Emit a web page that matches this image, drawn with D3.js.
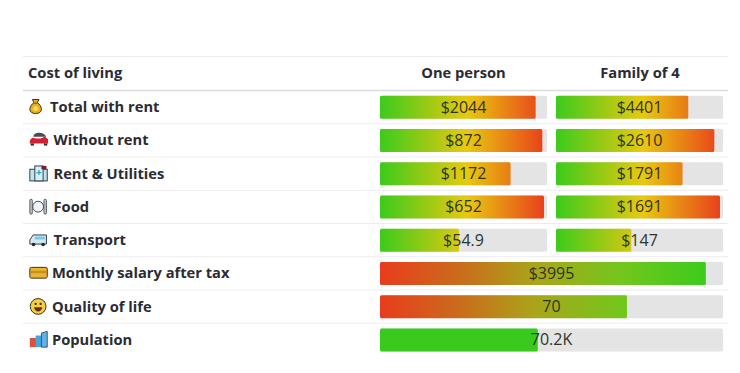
<!DOCTYPE html>
<html>
<head>
<meta charset="utf-8">
<script src="https://d3js.org/d3.v7.min.js"></script>
<style>
  body { margin: 0; background: #fff; }
  text { font-family: "Open Sans", sans-serif; fill: #2b2b33; }
</style>
</head>
<body>
<div id="chart"></div>
<script>
// table content
var title = "Cost of living";
var columns = ["One person", "Family of 4"];
var rows = ["Total with rent", "Without rent", "Rent & Utilities", "Food", "Transport", "Monthly salary after tax", "Quality of life", "Population"];
var icons = ["bag", "car", "hospital", "plate", "van", "card", "smile", "city"];

// shown labels and bar fill in % of the track
var onePersonLabels = ["$2044", "$872", "$1172", "$652", "$54.9"];
var onePersonFill = [93.2, 97.2, 78.2, 98.2, 47.3];
var familyLabels = ["$4401", "$2610", "$1791", "$1691", "$147"];
var familyFill = [79.2, 94.8, 75.8, 98.2, 45.1];
var wideLabels = ["$3995", "70", "70.2K"];
var wideFill = [95, 72, 46];

var width = 740, height = 373;
var svg = d3.select("#chart").append("svg")
    .attr("width", width)
    .attr("height", height)
    .style("display", "block");
var defs = svg.append("defs");

var rowY = d3.scaleBand().domain(rows).range([90.5, 356.5]);  // row slots
var pct = d3.scaleLinear().domain([0, 100]);
var col1 = [380, 547], col2 = [556, 723], colWide = [380, 723];
var barH = 23;

// grid lines
var lineYs = [56.5, 90.5].concat(rows.slice(0, -1).map(function(r){ return rowY(r) + rowY.bandwidth(); }));
svg.selectAll("line.grid").data(lineYs).enter().append("line")
    .attr("class", "grid")
    .attr("x1", 23).attr("x2", 728)
    .attr("y1", function(d){ return d; })
    .attr("y2", function(d){ return d; })
    .attr("stroke", function(d, i){ return i == 1 ? "#dcdce0" : "#ececec"; })
    .attr("stroke-width", function(d, i){ return i == 1 ? 1.5 : 1; });

// header
svg.append("text").attr("x", 28).attr("y", 78).text(title)
    .style("font-size", "14.7px").style("font-weight", 700);
svg.selectAll("text.colhead").data(columns).enter().append("text")
    .attr("class", "colhead")
    .attr("x", function(d, i){ return i == 0 ? 463.5 : 640; })
    .attr("y", 78)
    .attr("text-anchor", "middle")
    .style("font-size", "14.7px").style("font-weight", 700)
    .text(function(d){ return d; });

// row labels
var labelX = [50, 53.5, 53.5, 53.5, 53.5, 52, 52, 52];
svg.selectAll("text.rowlabel").data(rows).enter().append("text")
    .attr("class", "rowlabel")
    .attr("x", function(d, i){ return labelX[i]; })
    .attr("y", function(d){ return rowY(d) + rowY.bandwidth() / 2 + 5; })
    .style("font-size", "14.7px").style("font-weight", 700)
    .text(function(d){ return d; });

var gradId = 0;
function drawBar(rowName, range, value, label, stops) {
    var y = rowY(rowName) + (rowY.bandwidth() - barH) / 2;
    var x = pct.copy().range(range);
    var id = "g" + (gradId++);
    var grad = defs.append("linearGradient").attr("id", id)
        .attr("gradientUnits", "userSpaceOnUse")
        .attr("x1", range[0]).attr("x2", range[1]).attr("y1", 0).attr("y2", 0);
    grad.selectAll("stop").data(stops).enter().append("stop")
        .attr("offset", function(d){ return d[0]; })
        .attr("stop-color", function(d){ return d[1]; });

    svg.append("rect").attr("x", range[0]).attr("y", y)
        .attr("width", range[1] - range[0]).attr("height", barH)
        .attr("rx", 1.5).attr("fill", "#e4e4e4");
    svg.append("rect").attr("x", range[0]).attr("y", y)
        .attr("width", x(value) - range[0]).attr("height", barH)
        .attr("rx", 1.5).attr("fill", "url(#" + id + ")");
    svg.append("text")
        .attr("x", (range[0] + range[1]) / 2).attr("y", y + 17)
        .attr("text-anchor", "middle")
        .style("font-size", "16px").style("fill", "#2e3626")
        .text(label);
}

var goodToBad = [[0, "#3ccb1c"], [0.52, "#e8c90f"], [1, "#e83c1c"]];
var badToGood = [[0, "#e83c1c"], [0.25, "#c8701c"], [0.45, "#aaa41a"], [0.7, "#74c61c"], [0.95, "#3ccb1c"], [1, "#3ccb1c"]];
var flat = [[0, "#38ca1c"], [1, "#38ca1c"]];

onePersonFill.forEach(function(v, i){ drawBar(rows[i], col1, v, onePersonLabels[i], goodToBad); });
familyFill.forEach(function(v, i){ drawBar(rows[i], col2, v, familyLabels[i], goodToBad); });
wideFill.forEach(function(v, i){ drawBar(rows[i + 5], colWide, v, wideLabels[i], i == 2 ? flat : badToGood); });

// small emoji style icons, no emoji font here
var iconDraw = {
    bag: function(g){
        g.append("path").attr("d", "M4 1h8l-2 4c3 1.500 5 5 5 8 0 3-3 5-7 5s-7-2-7-5c0-3 2-6.500 5-8z")
            .attr("fill", "#e8ae1e").attr("stroke", "#3c3420").attr("stroke-width", 1.2);
        g.append("circle").attr("cx", 8).attr("cy", 12).attr("r", 3.2).attr("fill", "#f6d64a");
        g.append("path").attr("d", "M6.500 5.500h3").attr("stroke", "#3c3420").attr("stroke-width", 1);
    },
    car: function(g){
        g.append("path").attr("d", "M5 6q1-5 7-5t9 5z").attr("fill", "#4a4a52");
        g.append("path").attr("d", "M1 14v-4l3-3 5 1h5l5-2 4 3v5z").attr("fill", "#d42033");
        g.append("rect").attr("x", 2).attr("y", 14).attr("width", 4).attr("height", 2.500).attr("fill", "#333");
        g.append("rect").attr("x", 18).attr("y", 14).attr("width", 4).attr("height", 2.500).attr("fill", "#333");
    },
    hospital: function(g){
        g.append("rect").attr("x", 1).attr("y", 5).attr("width", 21).attr("height", 14).attr("fill", "#bfe2ee").attr("stroke", "#34404a").attr("stroke-width", 1.2);
        g.append("rect").attr("x", 7).attr("y", 1).attr("width", 10).attr("height", 18).attr("fill", "#d8eef5").attr("stroke", "#34404a").attr("stroke-width", 1.2);
        g.append("rect").attr("x", 15).attr("y", 1).attr("width", 6).attr("height", 4).attr("fill", "#7a1c28");
        g.append("path").attr("d", "M12 6v6M9 9h6").attr("stroke", "#3aa0c8").attr("stroke-width", 1.6);
    },
    plate: function(g){
        g.append("circle").attr("cx", 11).attr("cy", 10).attr("r", 6.500).attr("fill", "#f2f4f5").attr("stroke", "#45494d").attr("stroke-width", 1.2);
        g.append("rect").attr("x", 1).attr("y", 1).attr("width", 3).attr("height", 18).attr("rx", 1.500).attr("fill", "#c4c8cc").attr("stroke", "#45494d");
        g.append("rect").attr("x", 18).attr("y", 1).attr("width", 3).attr("height", 18).attr("rx", 1.500).attr("fill", "#c4c8cc").attr("stroke", "#45494d");
    },
    van: function(g){
        g.append("path").attr("d", "M1 15v-5l4-6h16v11z").attr("fill", "#cfeaf4").attr("stroke", "#3b4046").attr("stroke-width", 1.2);
        g.append("rect").attr("x", 7).attr("y", 6).attr("width", 12).attr("height", 3.500).attr("fill", "#7cc8e8");
        g.append("circle").attr("cx", 5.500).attr("cy", 15.500).attr("r", 2.200).attr("fill", "#26282c");
        g.append("circle").attr("cx", 17).attr("cy", 15.500).attr("r", 2.200).attr("fill", "#26282c");
    },
    card: function(g){
        g.append("rect").attr("x", 1).attr("y", 3).attr("width", 21).attr("height", 13).attr("rx", 2).attr("fill", "#edb42e").attr("stroke", "#3d3524").attr("stroke-width", 1.2);
        g.append("rect").attr("x", 2).attr("y", 7).attr("width", 19).attr("height", 3).attr("fill", "#c8901f");
    },
    smile: function(g){
        g.append("circle").attr("cx", 11).attr("cy", 10).attr("r", 9.500).attr("fill", "#f6cf3e").attr("stroke", "#3a3220").attr("stroke-width", 1.2);
        g.append("circle").attr("cx", 8).attr("cy", 7).attr("r", 1.400).attr("fill", "#30281a");
        g.append("circle").attr("cx", 14).attr("cy", 7).attr("r", 1.400).attr("fill", "#30281a");
        g.append("path").attr("d", "M6 11h10q-1 5-5 5t-5-5z").attr("fill", "#6a2a20");
    },
    city: function(g){
        g.append("rect").attr("x", 1).attr("y", 8).attr("width", 8).attr("height", 11).attr("fill", "#d9523c");
        g.append("rect").attr("x", 8).attr("y", 5).attr("width", 7).attr("height", 14).attr("fill", "#45a6dc");
        g.append("path").attr("d", "M15 19V2l7-2v19z").attr("fill", "#5fb4e4").attr("stroke", "#3a4048");
    }
};
var iconG = svg.selectAll("g.icon").data(rows).enter().append("g")
    .attr("class", "icon")
    .attr("transform", function(d){
        return "translate(29," + (rowY(d) + rowY.bandwidth() / 2 - 8.5) + ") scale(0.83)";
    });
iconG.each(function(d, i){ iconDraw[icons[i]](d3.select(this)); });
</script>
</body>
</html>
